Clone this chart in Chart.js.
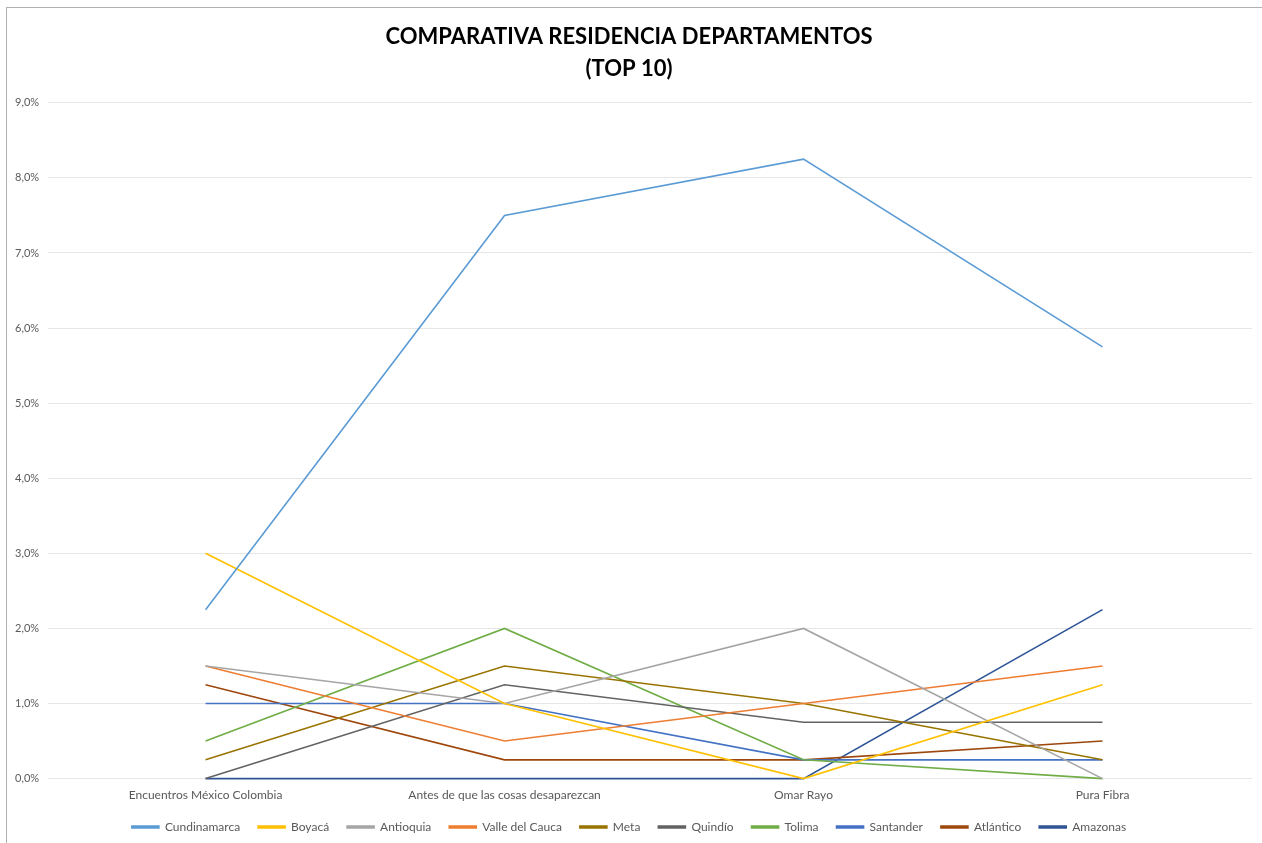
<!DOCTYPE html>
<html>
<head>
<meta charset="utf-8">
<script src="https://cdn.jsdelivr.net/npm/chart.js@4"></script>
<style>
  body { margin: 0; background: #fff; }
  .wrap { position: relative; width: 1262px; height: 843px; }
  .marco { position: absolute; left: 6px; top: 7px; right: 0; bottom: 0;
           border-top: 1px solid #b0b0b0; border-left: 1px solid #b0b0b0; pointer-events: none; }
</style>
</head>
<body>
<div class="wrap"><canvas id="myChart"></canvas><div class="marco"></div></div>
<script>
const categorias = ['Encuentros México Colombia', 'Antes de que las cosas desaparezcan', 'Omar Rayo', 'Pura Fibra'];

const cundinamarca = [2.25, 7.5, 8.25, 5.75];
const boyaca = [3.0, 1.0, 0, 1.25];
const antioquia = [1.5, 1.0, 2.0, 0];
const valle = [1.5, 0.5, 1.0, 1.5];
const meta = [0.25, 1.5, 1.0, 0.25];
const quindio = [0, 1.25, 0.75, 0.75];
const tolima = [0.5, 2.0, 0.25, 0];
const santander = [1.0, 1.0, 0.25, 0.25];
const atlantico = [1.25, 0.25, 0.25, 0.5];
const amazonas = [0, 0, 0, 2.25];

const yTicks = [0, 1, 2, 3, 4, 5, 6, 7, 8, 9];

// nombre, datos, color (paleta de office)
const series = [
  ['Cundinamarca', cundinamarca, '#5B9BD5'],
  ['Boyacá', boyaca, '#FFC000'],
  ['Antioquia', antioquia, '#A5A5A5'],
  ['Valle del Cauca', valle, '#ED7D31'],
  ['Meta', meta, '#997300'],
  ['Quindío', quindio, '#636363'],
  ['Tolima', tolima, '#70AD47'],
  ['Santander', santander, '#4472C4'],
  ['Atlántico', atlantico, '#9E480E'],
  ['Amazonas', amazonas, '#2F5597']
];

const ctx = document.getElementById('myChart').getContext('2d');

new Chart(ctx, {
  type: 'line',
  data: {
    labels: categorias,
    datasets: series.map(s => ({
      label: s[0],
      data: s[1],
      borderColor: s[2],
      backgroundColor: s[2],
      borderWidth: 1.6,
      pointRadius: 0,
      tension: 0,
      clip: 4
    }))
  },
  options: {
    responsive: true,
    maintainAspectRatio: false,
    animation: false,
    layout: { padding: { left: 6, right: 10, top: 7, bottom: 0 } },
    plugins: {
      title: {
        display: true,
        text: ['COMPARATIVA RESIDENCIA DEPARTAMENTOS', '(TOP 10)'],
        color: '#000',
        font: { family: 'Lato', size: 22, weight: 'bold', lineHeight: 1.45 },
        padding: { top: 14, bottom: 18 }
      },
      legend: {
        position: 'bottom',
        labels: {
          boxWidth: 27,
          boxHeight: 2,
          color: '#595959',
          font: { family: 'Lato', size: 12 },
          padding: 18
        }
      },
      tooltip: { enabled: false }
    },
    scales: {
      x: {
        offset: true,
        grid: { display: false },
        border: { display: false },
        ticks: { color: '#595959', font: { family: 'Lato', size: 12 }, maxRotation: 0, padding: 1 }
      },
      y: {
        min: 0,
        max: 9,
        afterBuildTicks: axis => { axis.ticks = yTicks.map(v => ({ value: v })); },
        grid: { color: '#e6e6e6' },
        border: { display: false },
        ticks: {
          color: '#595959',
          font: { family: 'Lato', size: 11 },
          padding: 9,
          callback: v => v.toFixed(1).replace('.', ',') + '%'
        }
      }
    }
  }
});
</script>
</body>
</html>
